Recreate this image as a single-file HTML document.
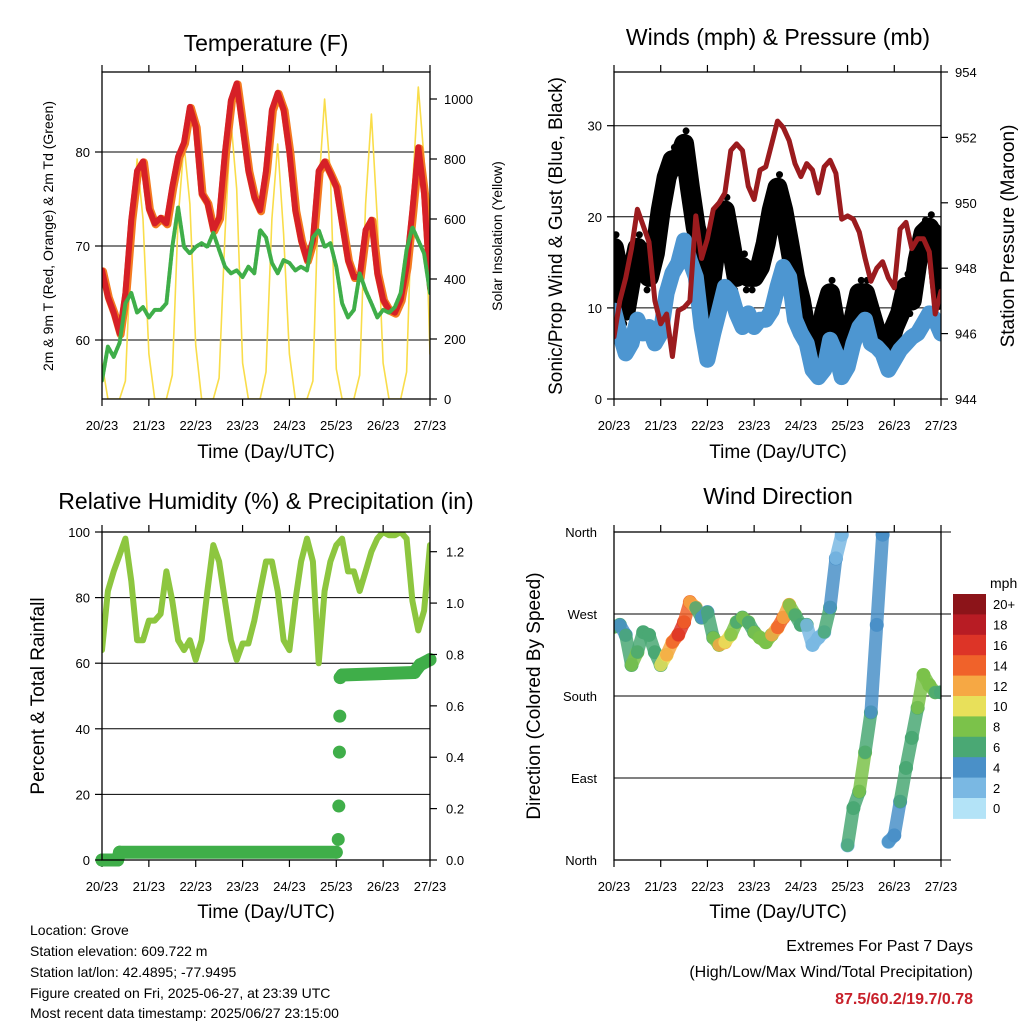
<!DOCTYPE html>
<html><head><meta charset="utf-8">
<style>
html,body{margin:0;padding:0;background:#fff;}
body{width:1024px;height:1024px;overflow:hidden;font-family:"Liberation Sans",Arial,sans-serif;}
svg text{font-family:"Liberation Sans",Arial,sans-serif;fill:#000;}
</style></head>
<body>
<svg id="chart" width="1024" height="1024" viewBox="0 0 1024 1024" xmlns="http://www.w3.org/2000/svg">
  <text x="266" y="51" font-size="23" text-anchor="middle">Temperature (F)</text>
  <text x="778" y="45" font-size="23" text-anchor="middle">Winds (mph) &amp; Pressure (mb)</text>
  <text x="266" y="509" font-size="23" text-anchor="middle">Relative Humidity (%) &amp; Precipitation (in)</text>
  <text x="778" y="504" font-size="23" text-anchor="middle">Wind Direction</text>

  <text x="266" y="458" font-size="19" text-anchor="middle">Time (Day/UTC)</text>
  <text x="778" y="458" font-size="19" text-anchor="middle">Time (Day/UTC)</text>
  <text x="266" y="918" font-size="19" text-anchor="middle">Time (Day/UTC)</text>
  <text x="778" y="918" font-size="19" text-anchor="middle">Time (Day/UTC)</text>

  <text transform="translate(53,236) rotate(-90)" font-size="14" text-anchor="middle">2m &amp; 9m T (Red, Orange) &amp; 2m Td (Green)</text>
  <text transform="translate(502,236) rotate(-90)" font-size="14" text-anchor="middle">Solar Insolation (Yellow)</text>
  <text transform="translate(562,236) rotate(-90)" font-size="19" text-anchor="middle">Sonic/Prop Wind &amp; Gust (Blue, Black)</text>
  <text transform="translate(1014,236) rotate(-90)" font-size="19" text-anchor="middle">Station Pressure (Maroon)</text>
  <text transform="translate(44,696) rotate(-90)" font-size="19" text-anchor="middle">Percent &amp; Total Rainfall</text>
  <text transform="translate(540,696) rotate(-90)" font-size="19" text-anchor="middle">Direction (Colored By Speed)</text>

  <g font-size="14">
    <text x="30" y="935">Location: Grove</text>
    <text x="30" y="956">Station elevation: 609.722 m</text>
    <text x="30" y="977">Station lat/lon: 42.4895; -77.9495</text>
    <text x="30" y="998">Figure created on Fri, 2025-06-27, at 23:39 UTC</text>
    <text x="30" y="1018">Most recent data timestamp: 2025/06/27 23:15:00</text>
  </g>
  <g text-anchor="end">
    <text x="973" y="951" font-size="16">Extremes For Past 7 Days</text>
    <text x="973" y="977" font-size="16">(High/Low/Max Wind/Total Precipitation)</text>
    <text x="973" y="1004" font-size="16" font-weight="bold" style="fill:#c8202a">87.5/60.2/19.7/0.78</text>
  </g>
</svg>
<script>
// ---- data (3-hour steps from 20/23 UTC) ----
const dayLabels = ["20/23","21/23","22/23","23/23","24/23","25/23","26/23","27/23"];
const temp2m = [67.4,64.6,62.9,60.7,65,72.8,78,79,74,72.4,73,72.4,76.3,79.5,81,84.8,82.7,75.6,74.6,71.7,73,80,85.5,87.3,82.7,78,75.2,73.8,78,84.5,86.3,84.5,80,73.8,70.6,68.5,70.6,78,79,77.7,76.3,72.4,68.5,66.7,66.7,71.7,72.8,67.1,64.3,63.2,62.9,64.3,67.8,73.8,80.5,75.6,65.6];
const dewPoint = [55.7,59.3,58.2,59.7,63.9,65,62.9,63.5,62.4,63.2,63.2,63.9,69.9,74.1,69.9,69.2,69.9,70.3,69.9,71.4,69.6,67.8,67.1,67.4,66.7,67.8,67.1,71.7,70.9,68.2,67.1,68.5,68.2,67.4,67.8,67.4,70.9,71.7,69.9,70.3,67.8,63.9,62.4,63.2,67.1,65.3,63.9,62.4,63.2,62.9,63.5,65,69.6,72,70.6,69.2,65];
const solar = [120,0,0,0,60,520,800,600,150,0,0,0,80,600,850,650,180,0,0,0,70,550,930,700,120,0,0,0,90,600,850,550,150,0,0,0,60,700,1000,750,100,0,0,0,80,650,950,600,120,0,0,0,90,700,1040,800,150];
const windSpeed = [9.7,7.2,5.0,6.1,8.7,7.2,7.9,6.1,7.2,11.6,13.8,14.9,17.4,15.2,13.4,7.9,4.3,7.2,9.7,12.3,11.6,9.4,7.9,9.4,7.9,8.7,8.7,9.7,12.3,14.5,13.4,8.7,7.2,6.1,3.2,2.4,3.2,6.5,5.0,2.4,3.5,6.1,7.9,8.7,6.1,5.7,5.0,3.2,4.3,5.4,6.1,6.8,7.2,8.3,9.4,8.7,7.2];
const windGust = [16.6,13.4,9.7,13.4,16.6,15.2,13.4,16.0,20.7,24.3,26.2,26.2,28.0,23.2,18.8,16.6,9.7,14.5,19.6,20.7,17.1,13.4,14.5,13.4,13.4,14.5,17.1,20.7,23.2,20.7,17.1,13.4,10.8,7.2,5.4,5.0,9.4,11.6,7.9,5.0,5.4,8.7,11.6,11.6,9.4,7.2,6.1,5.7,7.9,9.4,12.3,10.8,15.2,18.2,18.8,17.4,11.6];
const pressure = [945.9,947.0,947.7,948.6,949.8,949.3,948.8,947.0,946.3,946.6,945.3,946.7,946.8,947.0,949.6,948.3,948.9,949.8,950.0,950.3,951.6,951.8,951.6,950.5,950.1,951.0,951.1,951.8,952.5,952.3,951.9,951.2,950.8,951.2,951.0,950.3,951.1,951.3,950.9,949.5,949.6,949.5,949.1,948.3,947.6,948.0,948.2,947.7,947.4,949.2,949.4,948.6,948.9,948.9,948.5,946.6,947.3];
const relHumidity = [64,82,88,93,98,85,67,67,73,73,75,88,79,67,64,67,61,67,82,96,91,79,67,61,66,66,73,82,91,91,82,67,64,79,91,98,91,60,82,91,96,98,88,88,82,88,94,98,100,99,99,100,98,79,70,76,96];
const precipHours = [0,8,9,120,121,121.3,121.6,121.8,122,123,160,163,168];
const precipTotal = [0,0,0.03,0.03,0.08,0.21,0.42,0.56,0.71,0.72,0.73,0.76,0.78];
const windDir = [256,258,247,214,228,250,247,228,214,225,239,247,261,283,277,266,272,244,236,239,247,261,266,261,250,244,239,247,255,266,280,269,258,258,236,244,250,277,331,357,16,57,75,118,162,258,357,20,27,64,101,134,167,203,192,184,184];
const speedBins = ["0","2","4","6","8","10","12","14","16","18","20+"];
const speedColors = ["#b3e3f7","#7ab8e3","#4a90c8","#4aa874","#7bc24a","#e8e05a","#f6a844","#f0622a","#dd3427","#b81c24","#8c1419"];
const tempTicks = [60,70,80];
const solarTicks = [0,200,400,600,800,1000];
const windTicks = [0,10,20,30];
const pressTicks = [944,946,948,950,952,954];
const rhTicks = [0,20,40,60,80,100];
const rainTicks = [0.0,0.2,0.4,0.6,0.8,1.0,1.2];
const dirTicks = [0,90,180,270,360];
const dirNames = ["North","East","South","West","North"];

const NS = "http://www.w3.org/2000/svg";
const svg = document.getElementById("chart");
function mk(tag, attrs, parent){
  const e = document.createElementNS(NS, tag);
  for (const k in attrs) e.setAttribute(k, attrs[k]);
  (parent||svg).appendChild(e);
  return e;
}
function lin(d0,d1,r0,r1){ return v => r0 + (v-d0)*(r1-r0)/(d1-d0); }

const panels = {
  temp:{x0:102,x1:430,y0:72,y1:399},
  wind:{x0:614,x1:941,y0:72,y1:399},
  rh:{x0:102,x1:430,y0:532,y1:860},
  dir:{x0:614,x1:941,y0:532,y1:860}
};
function xs(p){ return lin(0,168,p.x0,p.x1); }

function frame(p, name){
  const g = mk("g",{});
  
  
  const x = xs(p);
  for (let h=0; h<=168; h+=24){
    const t = mk("line",{x1:x(h),x2:x(h),y1:p.y1,y2:p.y1+7,stroke:"#000","stroke-width":1.2},g);
    
    
    const t2 = mk("line",{x1:x(h),x2:x(h),y1:p.y0,y2:p.y0-7,stroke:"#000","stroke-width":1.2},g);
    
    
    const lb = mk("text",{x:x(h),y:p.y1+31,"font-size":13,"text-anchor":"middle"},g);
    lb.textContent = dayLabels[h/24];
    
    
  }
  return g;
}
function border(p, name){
  const r = mk("rect",{x:p.x0,y:p.y0,width:p.x1-p.x0,height:p.y1-p.y0,fill:"none",stroke:"#000","stroke-width":1.3});
  
  
}
function hgrid(p, ys, vals, name){
  vals.forEach(v=>{
    const y = ys(v);
    if (y<=p.y0+1 || y>=p.y1-1) return;
    const l = mk("line",{x1:p.x0,x2:p.x1,y1:y,y2:y,stroke:"#000","stroke-width":1});
    
    
  });
}
function yAxis(p, ys, vals, side, name, fmt, extraRight){
  vals.forEach(v=>{
    const y = ys(v);
    const x = side==="left" ? p.x0 : p.x1;
    const d = side==="left" ? -7 : 7;
    const t = mk("line",{x1:x,x2:x+d,y1:y,y2:y,stroke:"#000","stroke-width":1.2});
    
    
    const lb = mk("text",{x: side==="left"? p.x0-12 : p.x1+ (extraRight||14), y:y+5,"font-size":13,"text-anchor": side==="left"?"end":"start"});
    lb.textContent = fmt ? fmt(v) : String(v);
    
    
  });
}
function polyline(pts, attrs, name){
  const e = mk("polyline",Object.assign({points:pts.map(q=>q[0].toFixed(1)+","+q[1].toFixed(1)).join(" "),fill:"none","stroke-linejoin":"round","stroke-linecap":"round"},attrs));
  
  
  return e;
}
function clip(p, id){
  const cp = mk("clipPath",{id:id});
  mk("rect",{x:p.x0,y:p.y0,width:p.x1-p.x0,height:p.y1-p.y0},cp);
}

// ---------- Panel 1: Temperature ----------
(function(){
  const p = panels.temp, x = xs(p);
  const yT = lin(60,80,340,152), yS = lin(0,1000,399,99);
  clip(p,"cTemp");
  hgrid(p,yT,tempTicks,"temp");
  frame(p,"temp");
  const g = mk("g",{"clip-path":"url(#cTemp)"});
  
  
  const sp = solar.map((v,i)=>[x(i*3), yS(v)]);
  g.appendChild(polyline(sp,{stroke:"#f9dd4a","stroke-width":1.6}, "solar-line"));
  const op = temp2m.map((v,i)=>[x(i*3)+1, yT(v)+1]);
  g.appendChild(polyline(op,{stroke:"#f47b20","stroke-width":8}, "temp-9m-line"));
  const tp = temp2m.map((v,i)=>[x(i*3), yT(v)]);
  g.appendChild(polyline(tp,{stroke:"#d62027","stroke-width":6}, "temp-2m-line"));
  const dp = dewPoint.map((v,i)=>[x(i*3), yT(v)]);
  g.appendChild(polyline(dp,{stroke:"#3fae49","stroke-width":4,"stroke-dasharray":"3 1.5"}, "dewpoint-line"));
  border(p,"temp");
  yAxis(p,yT,tempTicks,"left","temp-y");
  yAxis(p,yS,solarTicks,"right","solar-y");
})();

// ---------- Panel 2: Winds & Pressure ----------
(function(){
  const p = panels.wind, x = xs(p);
  const yW = lin(0,30,399,125.7), yP = lin(944,954,399,72);
  clip(p,"cWind");
  hgrid(p,yW,windTicks,"wind");
  frame(p,"wind");
  const g = mk("g",{"clip-path":"url(#cWind)"});
  
  
  const gp = windGust.map((v,i)=>[x(i*3), yW(v)]);
  g.appendChild(polyline(gp,{stroke:"#000","stroke-width":20}, "gust-band"));
  windGust.forEach((v,i)=>{
    const c = mk("circle",{cx:x(i*3)+2,cy:yW(v)-13,r:3.5,fill:"#000"},g);
    
    
    const c2 = mk("circle",{cx:x(i*3)-2,cy:yW(v)+13,r:3.5,fill:"#000"},g);
    
    
  });
  const bp = windSpeed.map((v,i)=>[x(i*3), yW(v)]);
  g.appendChild(polyline(bp,{stroke:"#4d96d1","stroke-width":16}, "wind-speed-band"));
  const pp = pressure.map((v,i)=>[x(i*3), yP(v)]);
  g.appendChild(polyline(pp,{stroke:"#9b1b1e","stroke-width":5}, "pressure-line"));
  border(p,"wind");
  yAxis(p,yW,windTicks,"left","wind-y");
  yAxis(p,yP,pressTicks,"right","pressure-y");
})();

// ---------- Panel 3: RH & Precip ----------
(function(){
  const p = panels.rh, x = xs(p);
  const yR = lin(0,100,860,532), yQ = lin(0,1.2,860,551.7);
  clip(p,"cRh");
  hgrid(p,yR,rhTicks,"rh");
  frame(p,"rh");
  const g = mk("g",{"clip-path":"url(#cRh)"});
  
  
  const rp = relHumidity.map((v,i)=>[x(i*3), yR(v)]);
  g.appendChild(polyline(rp,{stroke:"#8dc63f","stroke-width":6}, "rh-line"));
  const g2 = mk("g",{});
  
  
  for (let i=0;i<precipHours.length;i++){
    const cx = x(precipHours[i]), cy = yQ(precipTotal[i]);
    const c = mk("circle",{cx:cx,cy:cy,r:6.5,fill:"#3fae49"},g2);
    
    
    if (i>0 && Math.abs(precipTotal[i]-precipTotal[i-1])<0.04){
      const l = mk("line",{x1:x(precipHours[i-1]),y1:yQ(precipTotal[i-1]),x2:cx,y2:cy,stroke:"#3fae49","stroke-width":13,"stroke-linecap":"round"},g2);
      
      
    }
  }
  border(p,"rh");
  yAxis(p,yR,rhTicks,"left","rh-y");
  yAxis(p,yQ,rainTicks,"right","rain-y",v=>v.toFixed(1),16);
})();

// ---------- Panel 4: Wind direction ----------
(function(){
  const p = panels.dir, x = xs(p);
  const yD = lin(0,360,860,532);
  clip(p,"cDir");
  dirTicks.forEach(v=>{
    const y = yD(v);
    const l = mk("line",{x1:p.x0,x2:p.x1+10,y1:y,y2:y,stroke:"#000","stroke-width":1});
    
    
  });
  frame(p,"dir");
  dirTicks.forEach((v,i)=>{
    const lb = mk("text",{x:p.x0-17,y:yD(v)+5,"font-size":13,"text-anchor":"end"});
    lb.textContent = dirNames[i];
    
    
  });
  const g = mk("g",{"clip-path":"url(#cDir)"});
  
  
  function col(s){ return speedColors[Math.min(10, Math.floor(s/2))]; }
  for (let i=0;i<windDir.length;i++){
    const cx = x(i*3), cy = yD(windDir[i]);
    if (i>0 && Math.abs(windDir[i]-windDir[i-1])<180){
      const l = mk("line",{x1:x((i-1)*3),y1:yD(windDir[i-1]),x2:cx,y2:cy,stroke:col(windSpeed[i]),"stroke-width":13,"stroke-linecap":"round","stroke-opacity":0.85},g);
      
      
    }
    const c = mk("circle",{cx:cx,cy:cy,r:7,fill:col(windSpeed[i])},g);
    
    
  }
  border(p,"dir");
  const cb = mk("g",{});
  
  
  const top = 594, h = 20.4;
  const unit = mk("text",{x:990,y:588,"font-size":14},cb);
  unit.textContent = "mph";
  
  
  for (let i=0;i<speedBins.length;i++){
    const k = speedBins.length-1-i;
    const r = mk("rect",{x:953,y:top+i*h,width:33,height:h+0.5,fill:speedColors[k]},cb);
    
    
    const t = mk("text",{x:993,y:top+i*h+h/2+5,"font-size":13},cb);
    t.textContent = speedBins[k];
    
    
  }
})();
</script>
</body></html>
